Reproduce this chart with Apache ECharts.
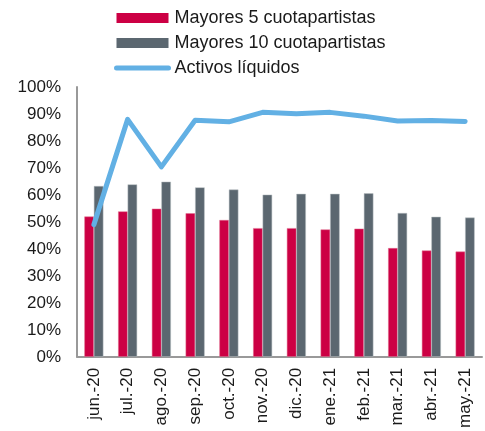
<!DOCTYPE html>
<html>
<head>
<meta charset="utf-8">
<script src="https://cdn.jsdelivr.net/npm/echarts@6/dist/echarts.min.js"></script>
<style>
  html, body { margin: 0; padding: 0; background: #fff; }
  #chart { width: 485px; height: 431px; }
</style>
</head>
<body>
<div id="chart"></div>
<script>
// datos
const months = ['jun.-20', 'jul.-20', 'ago.-20', 'sep.-20', 'oct.-20', 'nov.-20',
  'dic.-20', 'ene.-21', 'feb.-21', 'mar.-21', 'abr.-21', 'may.-21']
const top5 = [52.0, 53.9, 54.9, 53.2, 50.7, 47.7, 47.7, 47.2, 47.5, 40.3, 39.4, 39.0]
const top10 = [63.3, 63.9, 64.9, 62.8, 62.0, 60.1, 60.4, 60.4, 60.6, 53.3, 51.9, 51.6]
const liquidos = [49.0, 88.0, 70.4, 87.7, 87.1, 90.6, 90.1, 90.6, 89.2, 87.4, 87.6, 87.2]

const chart = echarts.init(document.getElementById('chart'))
const font = 'Liberation Sans, Arial, sans-serif'

chart.setOption({
  animation: false,
  legend: {
    orient: 'vertical',
    left: 114,
    top: 9,
    padding: 0,
    itemWidth: 52,
    itemHeight: 10,
    itemGap: 7,
    textStyle: { fontFamily: font, fontSize: 18, color: '#1a1a1a', padding: [0, 0, 0, 1] },
    data: [
      { name: 'Mayores 5 cuotapartistas', icon: 'rect', itemStyle: { borderWidth: 0 } },
      { name: 'Mayores 10 cuotapartistas', icon: 'rect', itemStyle: { borderWidth: 0 } },
      {
        name: 'Activos líquidos',
        itemStyle: { color: 'rgba(0,0,0,0)', borderWidth: 0 },
        lineStyle: { width: 5, cap: 'round' }
      }
    ]
  },
  grid: { left: 77, right: 3, top: 87, bottom: 74, containLabel: false },
  xAxis: {
    type: 'category',
    data: months,
    axisLine: { lineStyle: { color: '#999', width: 2 } },
    axisTick: { show: false },
    axisLabel: {
      rotate: 90,
      interval: 0,
      margin: 11,
      fontFamily: font,
      fontSize: 17,
      color: '#1a1a1a'
    }
  },
  yAxis: {
    type: 'value',
    min: 0,
    max: 100,
    interval: 10,
    axisLine: { show: true, lineStyle: { color: '#999', width: 2 } },
    axisTick: { show: false },
    splitLine: { show: false },
    axisLabel: {
      formatter: '{value}%',
      margin: 16,
      fontFamily: font,
      fontSize: 17,
      color: '#1a1a1a'
    }
  },
  series: [
    {
      name: 'Mayores 5 cuotapartistas',
      type: 'bar',
      data: top5,
      barWidth: 9.5,
      barGap: '0%',
      itemStyle: { color: '#CC0044', borderColor: '#e07090', borderWidth: 0.5 }
    },
    {
      name: 'Mayores 10 cuotapartistas',
      type: 'bar',
      data: top10,
      barWidth: 9.5,
      barGap: '0%',
      itemStyle: { color: '#5B6770', borderColor: '#b8bec3', borderWidth: 0.5 }
    },
    {
      name: 'Activos líquidos',
      type: 'line',
      data: liquidos,
      symbol: 'none',
      z: 5,
      lineStyle: { color: '#62B0E4', width: 5, cap: 'round', join: 'round' },
      itemStyle: { color: '#62B0E4' }
    }
  ]
})
</script>
</body>
</html>
